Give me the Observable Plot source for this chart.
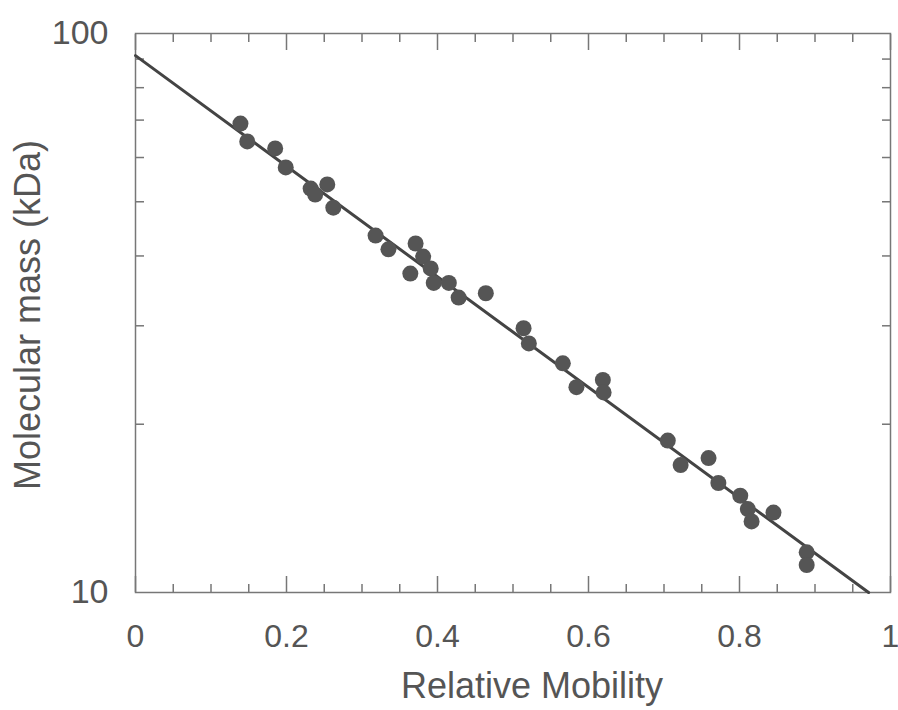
<!DOCTYPE html>
<html><head><meta charset="utf-8">
<script src="https://cdn.jsdelivr.net/npm/d3@7"></script>
<script src="https://cdn.jsdelivr.net/npm/@observablehq/plot@0.6"></script>
<style>body{margin:0;background:#fff;}</style>
</head><body><div id="chart"></div>
<script>
// Relative mobility of each standard
const mobility = [0.139,0.148,0.185,0.199,0.232,0.238,0.254,0.262,0.318,0.335,0.371,0.381,0.391,0.395,0.364,0.415,0.428,0.464,0.514,0.521,0.566,0.584,0.619,0.620,0.705,0.722,0.759,0.772,0.801,0.811,0.816,0.845,0.889,0.889];
// Molecular mass (kDa)
const mass = [69.0,64.1,62.3,57.6,52.8,51.5,53.7,48.8,43.5,41.1,42.1,39.9,38.0,35.8,37.2,35.8,33.7,34.3,29.7,27.9,25.7,23.3,24.0,22.8,18.7,16.9,17.4,15.7,14.9,14.1,13.4,13.9,11.8,11.2];
// Fitted line end points
const fitMobility = [0, 0.971];
const fitMass = [91.3, 10];
// Ticks
const xMajor = [0,0.2,0.4,0.6,0.8,1];
const xMinor = [0.05,0.1,0.15,0.25,0.3,0.35,0.45,0.5,0.55,0.65,0.7,0.75,0.85,0.9,0.95];
const yMinor = [20,30,40,50,60,70,80,90];
const yLabels = [10,100];
const xTitle = "Relative Mobility";
const yTitle = "Molecular mass (kDa)";

const points = mobility.map((m,i)=>({x:m, y:mass[i]}));
const fit = fitMobility.map((m,i)=>({x:m, y:fitMass[i]}));
const blank = () => "";
const axisStroke = "#777";

const chart = Plot.plot({
  width: 898, height: 710,
  marginLeft: 135, marginRight: 8, marginTop: 33, marginBottom: 118,
  style: {fontFamily: "'Liberation Sans', Arial, sans-serif", color: "#555", background: "#fff"},
  x: {domain: [0,1], label: null},
  y: {type: "log", domain: [10,100], label: null},
  marks: [
    Plot.frame({stroke: axisStroke, strokeWidth: 1.5}),
    Plot.axisX(xMinor, {anchor: "bottom", tickSize: -8, tickFormat: blank, label: null, stroke: axisStroke, strokeWidth: 1.5}),
    Plot.axisX(xMinor, {anchor: "top", tickSize: -8, tickFormat: blank, label: null, stroke: axisStroke, strokeWidth: 1.5}),
    Plot.axisX(xMajor, {anchor: "bottom", tickSize: -16, tickFormat: blank, label: null, stroke: axisStroke, strokeWidth: 1.5}),
    Plot.axisX(xMajor, {anchor: "top", tickSize: -16, tickFormat: blank, label: null, stroke: axisStroke, strokeWidth: 1.5}),
    Plot.axisY(yMinor, {anchor: "left", tickSize: -9, tickFormat: blank, label: null, stroke: axisStroke, strokeWidth: 1.5}),
    Plot.axisY(yMinor, {anchor: "right", tickSize: -9, tickFormat: blank, label: null, stroke: axisStroke, strokeWidth: 1.5}),
    Plot.axisX(xMajor, {anchor: "bottom", tickSize: 0, tickPadding: 32, fontSize: 32, tickFormat: d => String(d), label: null}),
    Plot.axisY(yLabels, {anchor: "left", tickSize: 0, tickPadding: 27, fontSize: 34, tickFormat: d => String(d), label: null}),
    Plot.line(fit, {x: "x", y: "y", stroke: "#444", strokeWidth: 3}),
    Plot.dot(points, {x: "x", y: "y", r: 8, fill: "#555", stroke: "none"}),
    Plot.text([xTitle], {frameAnchor: "bottom", textAnchor: "middle", lineAnchor: "middle", dx: 19, dy: 94, fontSize: 36, text: d => d, fill: "#555"}),
    Plot.text([yTitle], {frameAnchor: "left", textAnchor: "middle", lineAnchor: "middle", rotate: -90, dx: -107, dy: 2, fontSize: 36, text: d => d, fill: "#555"})
  ]
});
document.getElementById("chart").appendChild(chart);
</script>
</body></html>
